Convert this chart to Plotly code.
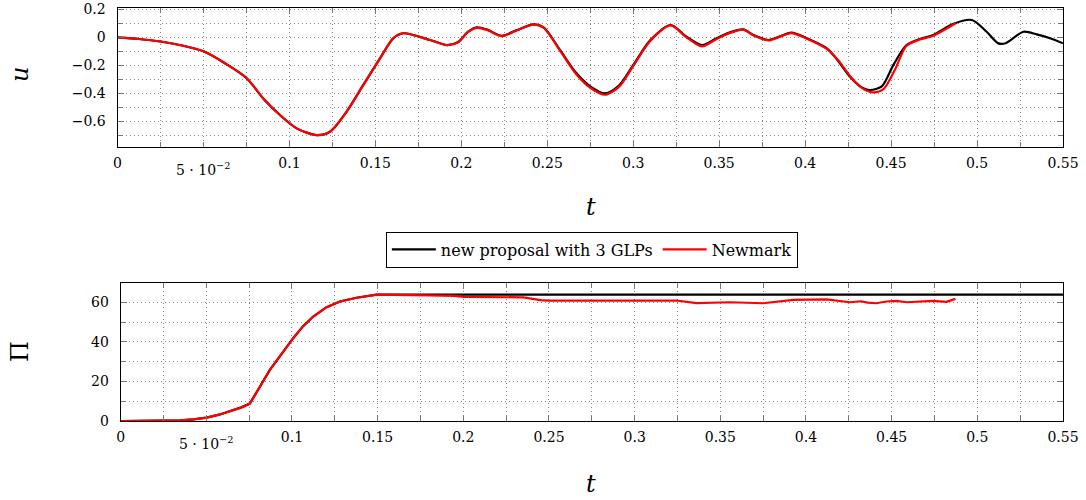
import plotly.graph_objects as go

# ---------------- data ----------------
t_u_new = [0, 0.0125, 0.025, 0.0375, 0.05, 0.0625, 0.075, 0.085, 0.0945, 0.1042, 0.1159, 0.1236,
           0.1333, 0.143, 0.1527, 0.1604, 0.1663, 0.1818, 0.1915, 0.198, 0.204, 0.209, 0.215,
           0.2235, 0.232, 0.242, 0.248, 0.2574, 0.267, 0.275, 0.2836, 0.292, 0.300, 0.31, 0.3218,
           0.331, 0.340, 0.348, 0.356, 0.364, 0.37, 0.3786, 0.385, 0.392, 0.401, 0.4126, 0.418,
           0.426, 0.432, 0.4377, 0.4446, 0.4513, 0.459, 0.4668, 0.4746, 0.486, 0.497, 0.5056,
           0.5124, 0.517, 0.527, 0.5347, 0.5425, 0.55]
u_new = [0, -0.012, -0.03, -0.058, -0.10, -0.185, -0.29, -0.44, -0.555, -0.65, -0.698, -0.674,
         -0.53, -0.34, -0.15, -0.007, 0.029, -0.019, -0.055, -0.035, 0.04, 0.071, 0.055,
         0.011, 0.05, 0.093, 0.07, -0.09, -0.257, -0.35, -0.40, -0.34, -0.198, -0.02, 0.088,
         0.004, -0.055, -0.01, 0.035, 0.057, 0.016, -0.019, 0.005, 0.033, -0.007, -0.079, -0.15,
         -0.28, -0.35, -0.376, -0.35, -0.198, -0.055, -0.012, 0.016, 0.095, 0.124, 0.04,
         -0.043, -0.04, 0.04, 0.021, -0.007, -0.043]

t_u_nm = [0, 0.0125, 0.025, 0.0375, 0.05, 0.0625, 0.075, 0.085, 0.0945, 0.1042, 0.1159, 0.1236,
          0.1333, 0.143, 0.1527, 0.1604, 0.1663, 0.1818, 0.1915, 0.198, 0.204, 0.209, 0.215,
          0.2235, 0.232, 0.242, 0.248, 0.2574, 0.267, 0.275, 0.2836, 0.292, 0.300, 0.31, 0.3218,
          0.331, 0.340, 0.348, 0.356, 0.364, 0.37, 0.3786, 0.385, 0.392, 0.401, 0.4126, 0.419,
          0.427, 0.434, 0.4397, 0.4456, 0.4523, 0.459, 0.4668, 0.4746, 0.4876]
u_nm = [0, -0.012, -0.03, -0.058, -0.10, -0.185, -0.29, -0.44, -0.555, -0.65, -0.698, -0.674,
        -0.53, -0.34, -0.15, -0.007, 0.029, -0.019, -0.055, -0.035, 0.04, 0.068, 0.053,
        0.009, 0.048, 0.09, 0.067, -0.095, -0.265, -0.36, -0.41, -0.35, -0.205, -0.025, 0.085,
        0.0, -0.065, -0.015, 0.03, 0.055, 0.013, -0.022, 0.003, 0.03, -0.01, -0.083, -0.16,
        -0.29, -0.37, -0.393, -0.37, -0.23, -0.06, -0.016, 0.012, 0.10]

t_pi_new = [0, 0.025, 0.0346, 0.0425, 0.0502, 0.0575, 0.0638, 0.0705, 0.0754, 0.0871, 0.1007,
            0.1065, 0.1124, 0.1202, 0.128, 0.1377, 0.1494, 0.55]
pi_new = [0, 0, 0.3, 0.8, 1.7, 3.2, 5.1, 6.9, 8.8, 25.9, 41.9, 48.0, 52.9, 57.6, 60.5, 62.4,
          64.0, 64.0]

t_pi_nm = [0, 0.025, 0.0346, 0.0425, 0.0502, 0.0575, 0.0638, 0.0705, 0.0754, 0.0871, 0.1007,
           0.1065, 0.1124, 0.1202, 0.128, 0.1377, 0.1494, 0.165, 0.18, 0.195, 0.2, 0.235, 0.245,
           0.25, 0.27, 0.29, 0.31, 0.3244, 0.336, 0.3555, 0.375, 0.3925, 0.412, 0.4256, 0.432,
           0.436, 0.441, 0.447, 0.4528, 0.4587, 0.466, 0.474, 0.482, 0.4872]
pi_nm = [0, 0, 0.3, 0.8, 1.7, 3.2, 5.1, 6.9, 8.8, 25.9, 41.9, 48.0, 52.9, 57.6, 60.5, 62.4,
         64.0, 63.9, 63.6, 63.3, 62.8, 62.6, 61.2, 60.9, 60.8, 61.0, 60.9, 61.0, 59.7, 60.1,
         59.6, 61.3, 61.6, 60.1, 60.6, 59.9, 59.6, 60.5, 60.8, 60.1, 60.5, 60.8, 60.3, 61.8]

x_tickvals = [0, 0.1, 0.15, 0.2, 0.25, 0.3, 0.35, 0.4, 0.45, 0.5, 0.55]
x_ticktext = ["0", "0.1", "0.15", "0.2", "0.25", "0.3", "0.35", "0.4", "0.45", "0.5", "0.55"]
x_minorvals = [0.025, 0.05, 0.075, 0.125, 0.175, 0.225, 0.275, 0.325, 0.375, 0.425, 0.475, 0.525]
special_x = 0.05
special_label = "5 · 10<sup>−2</sup>"

names = ["new proposal with 3 GLPs", "Newmark"]
colors = ["#000000", "#ff0000"]

# ---------------- figure ----------------
FONT = "DejaVu Serif"
fig = go.Figure()
fig.add_trace(go.Scatter(x=t_u_new, y=u_new, mode="lines", name=names[0],
                         line=dict(color=colors[0], width=2.2, shape="spline", smoothing=0.8),
                         xaxis="x", yaxis="y"))
fig.add_trace(go.Scatter(x=t_u_nm, y=u_nm, mode="lines", name=names[1],
                         line=dict(color=colors[1], width=2.2, shape="spline", smoothing=0.8),
                         xaxis="x", yaxis="y"))
fig.add_trace(go.Scatter(x=t_pi_new, y=pi_new, mode="lines", name=names[0], showlegend=False,
                         line=dict(color=colors[0], width=2.2), xaxis="x2", yaxis="y2"))
fig.add_trace(go.Scatter(x=t_pi_nm, y=pi_nm, mode="lines", name=names[1], showlegend=False,
                         line=dict(color=colors[1], width=2.2), xaxis="x2", yaxis="y2"))

grid = dict(showgrid=True, gridcolor="#8a8a8a", griddash="1px,3px", gridwidth=1)
common = dict(showline=True, linecolor="black", linewidth=1, mirror="allticks",
              ticks="inside", ticklen=6, tickcolor="#777777", tickwidth=1, automargin=False,
              zeroline=False, tickfont=dict(family=FONT, size=14, color="black"), **grid)

xcommon = dict(common, range=[0, 0.55], tickmode="array", tickvals=x_tickvals,
               ticktext=x_ticktext, ticklabelstandoff=3,
               minor=dict(tickvals=x_minorvals, ticks="inside", ticklen=5,
                          tickcolor="#777777", **grid))

fig.update_layout(
    template="none",
    width=1086, height=500,
    margin=dict(l=0, r=0, t=0, b=0, autoexpand=False),
    paper_bgcolor="white", plot_bgcolor="white",
    font=dict(family=FONT, color="black"),
    xaxis=dict(xcommon, domain=[0.1082, 0.9788], anchor="y"),
    yaxis=dict(common, domain=[0.7066, 0.985], anchor="x", range=[-0.781, 0.213],
               tickmode="linear", tick0=0, dtick=0.2, ticklabelstandoff=8,
               minor=dict(dtick=0.1, tick0=0, ticks="inside", ticklen=5, tickcolor="#777777", **grid)),
    xaxis2=dict(xcommon, domain=[0.1111, 0.9788], anchor="y2"),
    yaxis2=dict(common, domain=[0.158, 0.4346], anchor="x2", range=[0, 70],
                tickmode="linear", tick0=0, dtick=20, ticklabelstandoff=8,
                minor=dict(dtick=10, tick0=0, ticks="inside", ticklen=5, tickcolor="#777777", **grid)),
    showlegend=True,
    legend=dict(orientation="h", x=0.545, xanchor="center", y=0.501, yanchor="middle",
                bordercolor="black", borderwidth=1, bgcolor="white", itemwidth=44,
                font=dict(family=FONT, size=16, color="black")),
)

ann = []
for xr, yr in [("x", "y domain"), ("x2", "y2 domain")]:
    ann.append(dict(x=special_x, xref=xr, y=0, yref=yr, yanchor="top", xanchor="center",
                    yshift=-11, text=special_label, showarrow=False,
                    font=dict(family=FONT, size=14, color="black")))
titles = [("<i>u</i>", 20, 75, -90), ("<i>t</i>", 591, 207, 0),
          ("Π", 20, 352, -90), ("<i>t</i>", 591, 484, 0)]
for txt, px, py, ang in titles:
    ann.append(dict(x=px / 1086, xref="paper", y=1 - py / 500, yref="paper",
                    xanchor="center", yanchor="middle", text=txt, showarrow=False,
                    textangle=ang, font=dict(family=FONT, size=24, color="black")))
fig.update_layout(annotations=ann)

fig.write_html("out.html", config={"displayModeBar": False},
               post_script="document.body.style.margin='0';")
